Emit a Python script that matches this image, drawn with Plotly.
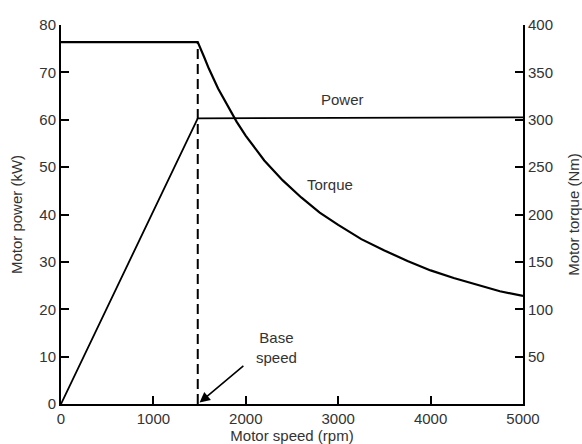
import plotly.graph_objects as go

# Data
base_speed = 1480
power_speed = [0, 1480, 5000]
power_kw = [0, 60.3, 60.5]
torque_speed = [0, 1480, 1550, 1600, 1700, 1800, 1900, 2000, 2200, 2400, 2600, 2800,
                3000, 3250, 3500, 3750, 4000, 4250, 4500, 4750, 5000]
torque_nm = [382, 382, 366, 354, 333, 315, 298, 283, 257, 236, 218, 202,
             189, 174, 162, 151, 141, 133, 126, 119, 114]
x_ticks = [0, 1000, 2000, 3000, 4000, 5000]
y_ticks = [0, 10, 20, 30, 40, 50, 60, 70, 80]
y2_ticks = [50, 100, 150, 200, 250, 300, 350, 400]

txt = dict(family="Liberation Sans, Arial, sans-serif", size=15, color="#333333")

fig = go.Figure()
fig.add_trace(go.Scatter(x=power_speed, y=power_kw, mode="lines",
                         line=dict(color="black", width=1.8), yaxis="y", showlegend=False))
fig.add_trace(go.Scatter(x=torque_speed, y=torque_nm, mode="lines",
                         line=dict(color="black", width=2.2),
                         yaxis="y2", showlegend=False))
fig.add_trace(go.Scatter(x=[base_speed, base_speed], y=[0, torque_nm[0]], mode="lines",
                         line=dict(color="black", width=2, dash="10px,5px"), yaxis="y2", showlegend=False))

fig.add_annotation(x=3050, y=64.2, text="Power", showarrow=False, font=txt, xref="x", yref="y")
fig.add_annotation(x=2910, y=46.4, text="Torque", showarrow=False, font=txt, xref="x", yref="y")
fig.add_annotation(x=2330, y=12, text="Base<br>speed", showarrow=False, font=txt, xref="x", yref="y")
fig.add_annotation(x=base_speed + 20, y=0.3, ax=1990, ay=8.3, axref="x", ayref="y",
                   xref="x", yref="y", text="", showarrow=True, arrowhead=2,
                   arrowsize=1.3, arrowwidth=1.6, arrowcolor="black")

axis_common = dict(showline=True, linecolor="black", linewidth=2, ticks="inside",
                   ticklen=8, tickwidth=2, tickcolor="black", showgrid=False,
                   zeroline=False, tickfont=txt, automargin=False)

fig.update_layout(
    width=582, height=444,
    margin=dict(l=61, r=59, t=25, b=40),
    paper_bgcolor="white", plot_bgcolor="white",
    xaxis=dict(range=[0, 5000], tickvals=x_ticks, title=dict(text="Motor speed (rpm)", font=txt, standoff=0),
               **axis_common),
    yaxis=dict(range=[0, 80], tickvals=y_ticks, title=dict(text="Motor power (kW)", font=txt, standoff=13),
               **axis_common),
    yaxis2=dict(range=[0, 400], tickvals=y2_ticks, overlaying="y", side="right",
                title=dict(text="Motor torque (Nm)", font=txt, standoff=18), **axis_common),
)

fig.write_html("out.html", config={"displayModeBar": False},
               post_script="document.body.style.margin='0';document.body.style.padding='0';")
